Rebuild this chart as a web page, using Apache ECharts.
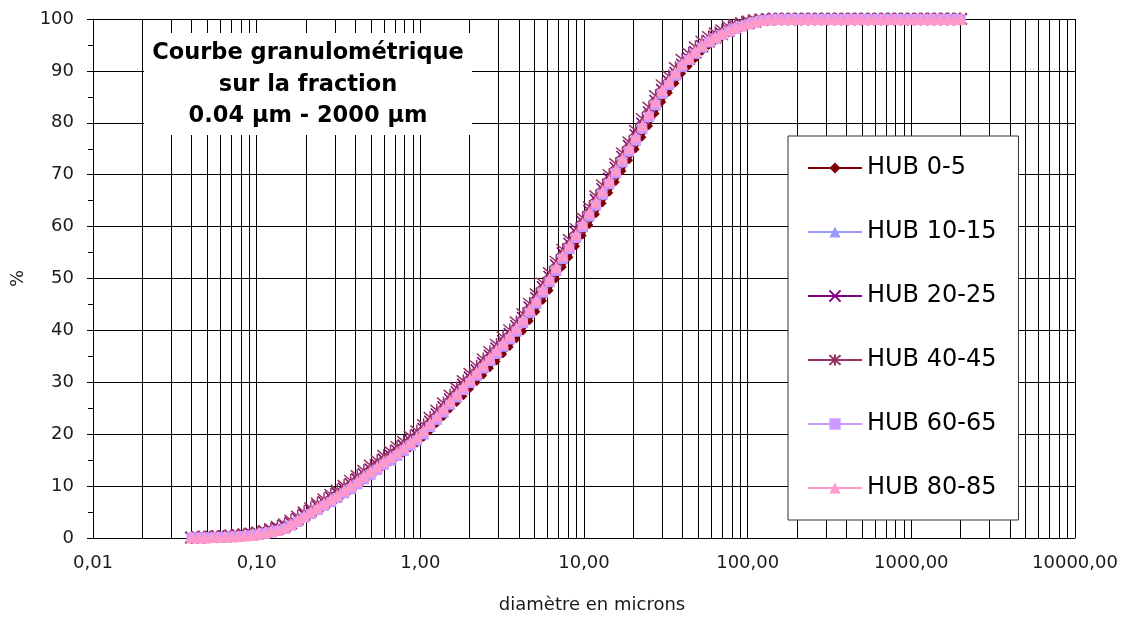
<!DOCTYPE html>
<html><head><meta charset="utf-8">
<script src="https://cdn.jsdelivr.net/npm/echarts@6/dist/echarts.min.js"></script>
<style>html,body{margin:0;padding:0;background:#fff}#c{width:1125px;height:619px}</style>
</head><body><div id="c"></div>
<script>
// particle sizes (µm)
const sizes = [0.040,0.044,0.048,0.053,0.058,0.064,0.070,0.077,0.084,0.093,
0.102,0.112,0.122,0.134,0.148,0.162,0.178,0.195,0.214,0.235,
0.258,0.284,0.311,0.342,0.375,0.412,0.452,0.496,0.545,0.598,
0.657,0.721,0.791,0.869,0.953,1.047,1.149,1.261,1.385,1.520,
1.669,1.832,2.011,2.208,2.423,2.660,2.920,3.206,3.519,3.863,
4.241,4.656,5.111,5.611,6.159,6.761,7.422,8.148,8.944,9.819,
10.78,11.83,12.99,14.26,15.65,17.18,18.86,20.70,22.73,24.95,
27.39,30.07,33.01,36.24,39.78,43.67,47.94,52.62,57.77,63.41,
69.61,76.42,83.90,92.09,101.1,111.0,121.8,133.7,146.8,161.2,
176.8,194.2,213.2,234.1,256.8,282.1,309.6,339.8,373.1,409.6,
449.7,493.6,541.9,594.9,653.0,716.9,786.9,863.9,948.2,1041,
1143,1255,1377,1512,1660,1822,2000];

const hub0_5 = [0.1,0.1,0.1,0.1,0.2,0.2,0.3,0.3,0.4,0.5,
0.6,0.8,1.1,1.4,1.7,2.3,3.1,3.9,4.7,5.5,
6.2,7.0,7.8,8.6,9.5,10.3,11.2,12.1,13.0,13.9,
14.6,15.5,16.4,17.3,18.2,19.3,20.6,22.0,23.3,24.8,
26.0,27.3,28.7,30.0,31.3,32.7,34.0,35.4,36.8,38.3,
39.8,41.8,43.6,45.7,47.7,49.9,52.2,54.1,56.2,58.3,
60.3,62.4,64.5,66.5,68.6,70.7,72.8,74.9,77.2,79.4,
81.8,84.0,85.8,87.6,89.5,90.9,92.3,93.7,94.8,95.7,
96.4,97.2,97.8,98.3,98.8,99.2,99.5,99.7,99.9,100,
100,100,100,100,100,100,100,100,100,100,
100,100,100,100,100,100,100,100,100,100,
100,100,100,100,100,100,100];

const hub10_15 = [0.1,0.1,0.1,0.2,0.2,0.3,0.3,0.4,0.5,0.6,
0.7,0.9,1.2,1.5,1.9,2.5,3.3,4.1,4.9,5.6,
6.4,7.2,8.0,8.8,9.7,10.6,11.5,12.4,13.3,14.3,
15.1,16.0,16.9,17.9,18.9,20.1,21.5,22.9,24.3,25.8,
27.2,28.6,30.0,31.4,32.8,34.2,35.6,37.0,38.4,39.9,
41.5,43.5,45.3,47.4,49.4,51.6,53.9,55.8,57.9,60.0,
62.1,64.2,66.3,68.3,70.4,72.5,74.6,76.7,79.0,81.2,
83.5,85.7,87.4,89.2,90.9,92.2,93.4,94.6,95.6,96.3,
97.0,97.7,98.2,98.7,99.1,99.4,99.7,99.9,100,100,
100,100,100,100,100,100,100,100,100,100,
100,100,100,100,100,100,100,100,100,100,
100,100,100,100,100,100,100];

const hub20_25 = [0.1,0.1,0.2,0.2,0.3,0.3,0.4,0.5,0.6,0.7,
0.9,1.2,1.5,1.8,2.3,2.9,3.7,4.5,5.3,6.1,
6.9,7.8,8.6,9.5,10.4,11.3,12.3,13.2,14.1,15.1,
15.9,16.8,17.8,18.8,19.8,21.0,22.4,23.8,25.2,26.7,
28.1,29.5,30.9,32.3,33.7,35.1,36.5,37.9,39.3,40.8,
42.4,44.4,46.2,48.3,50.3,52.5,54.8,56.7,58.8,60.9,
63.0,65.1,67.2,69.2,71.3,73.4,75.5,77.6,79.8,82.0,
84.2,86.3,88.0,89.6,91.2,92.4,93.6,94.8,95.7,96.5,
97.1,97.8,98.3,98.8,99.2,99.5,99.8,99.9,100,100,
100,100,100,100,100,100,100,100,100,100,
100,100,100,100,100,100,100,100,100,100,
100,100,100,100,100,100,100];

const hub40_45 = [0.1,0.2,0.2,0.3,0.3,0.4,0.5,0.6,0.7,0.9,
1.1,1.4,1.8,2.2,2.7,3.4,4.2,5.0,5.8,6.7,
7.5,8.4,9.2,10.1,11.1,12.0,13.0,14.0,14.9,15.9,
16.7,17.6,18.6,19.6,20.6,21.8,23.2,24.6,26.0,27.5,
28.9,30.3,31.7,33.1,34.5,35.9,37.3,38.7,40.1,41.6,
43.2,45.2,47.0,49.1,51.1,53.3,55.6,57.5,59.6,61.7,
63.8,65.9,68.0,70.0,72.1,74.2,76.3,78.5,80.8,83.0,
85.2,87.3,89.0,90.6,92.2,93.4,94.6,95.7,96.6,97.3,
97.9,98.5,98.9,99.3,99.6,99.8,99.9,100,100,100,
100,100,100,100,100,100,100,100,100,100,
100,100,100,100,100,100,100,100,100,100,
100,100,100,100,100,100,100];

const hub60_65 = [0.1,0.1,0.1,0.1,0.2,0.2,0.3,0.3,0.4,0.5,
0.7,0.9,1.1,1.4,1.8,2.4,3.1,3.9,4.6,5.4,
6.2,6.9,7.7,8.6,9.4,10.3,11.3,12.2,13.1,14.1,
14.9,15.8,16.8,17.8,18.8,20.0,21.4,22.8,24.2,25.7,
27.1,28.5,29.9,31.3,32.7,34.1,35.5,36.9,38.3,39.8,
41.4,43.4,45.2,47.3,49.3,51.5,53.8,55.7,57.8,59.9,
62.0,64.1,66.2,68.2,70.3,72.4,74.5,76.6,78.9,81.1,
83.4,85.6,87.3,89.1,90.8,92.1,93.3,94.5,95.5,96.2,
96.9,97.6,98.2,98.6,99.0,99.4,99.7,99.8,100,100,
100,100,100,100,100,100,100,100,100,100,
100,100,100,100,100,100,100,100,100,100,
100,100,100,100,100,100,100];

const hub80_85 = [0.1,0.1,0.1,0.2,0.2,0.3,0.3,0.4,0.5,0.6,
0.8,1.0,1.3,1.6,2.0,2.7,3.5,4.3,5.1,5.9,
6.7,7.5,8.3,9.2,10.1,11.0,12.0,12.9,13.8,14.8,
15.6,16.5,17.5,18.5,19.5,20.7,22.1,23.5,24.9,26.4,
27.8,29.2,30.6,32.0,33.4,34.8,36.2,37.6,39.0,40.5,
42.1,44.1,45.9,48.0,50.0,52.2,54.5,56.4,58.5,60.6,
62.7,64.8,66.9,68.9,71.0,73.1,75.2,77.3,79.6,81.8,
84.1,86.3,88.0,89.7,91.4,92.6,93.8,95.0,95.9,96.6,
97.2,97.9,98.4,98.8,99.2,99.5,99.8,99.9,100,100,
100,100,100,100,100,100,100,100,100,100,
100,100,100,100,100,100,100,100,100,100,
100,100,100,100,100,100,100];

const seriesNames = ['HUB 0-5','HUB 10-15','HUB 20-25','HUB 40-45','HUB 60-65','HUB 80-85'];
const seriesValues = [hub0_5, hub10_15, hub20_25, hub40_45, hub60_65, hub80_85];
const xTickLabels = ['0,01','0,10','1,00','10,00','100,00','1000,00','10000,00'];
const minorGridMultipliers = [2,3,4,5,6,7,8,9];
const decades = [0.01,0.1,1,10,100,1000];
const titleText = 'Courbe granulométrique\nsur la fraction\n0.04 µm - 2000 µm';

const F = 'DejaVu Sans';
const X = 'path://M0,0L10,10M0,10L10,0';
const STAR = 'path://M0,0L10,10M0,10L10,0M5,-1L5,11';
const styles = [
  {color:'#800000', symbol:'diamond', size:8, stroke:false},
  {color:'#9999FF', symbol:'triangle', size:11, stroke:false},
  {color:'#800080', symbol:X, size:12, stroke:true},
  {color:'#993366', symbol:STAR, size:13, stroke:true},
  {color:'#CC99FF', symbol:'rect', size:10, stroke:false},
  {color:'#FF99CC', symbol:'triangle', size:12, stroke:false}
];

const minorGrid = [];
decades.forEach(d => minorGridMultipliers.forEach(k => minorGrid.push({xAxis: +(d*k).toPrecision(3)})));

const series = seriesNames.map((name, i) => {
  const st = styles[i];
  const s = {
    name, type:'line', z:2, clip:false,
    data: sizes.map((x, j) => [x, seriesValues[i][j]]),
    symbol: st.symbol, symbolSize: st.size,
    lineStyle: {color: st.color, width: 2},
    itemStyle: st.stroke ? {color: st.color, borderColor: st.color, borderWidth: 1.5}
                         : {color: st.color, borderWidth: 0},
    emphasis: {disabled: true},
    animation: false
  };
  if (i === 0) {
    s.markLine = {
      silent: true, z: 1, symbol: ['none','none'], animation: false,
      label: {show: false},
      lineStyle: {color:'#000', width:1, type:'solid'},
      emphasis: {disabled: true},
      data: minorGrid
    };
  }
  return s;
});

const chart = echarts.init(document.getElementById('c'));
chart.setOption({
  animation: false,
  backgroundColor: '#fff',
  grid: {left: 93, right: 50, top: 19, bottom: 80},
  xAxis: {
    type: 'log', logBase: 10, min: 0.01, max: 10000, splitNumber: 6,
    name: 'diamètre en microns', nameLocation: 'middle', nameGap: 58,
    nameTextStyle: {fontFamily: F, fontSize: 18, color: '#1a1a1a', padding: [0,0,0,16]},
    axisLine: {show: true, lineStyle: {color: '#000', width: 1}},
    axisTick: {show: false},
    axisLabel: {fontFamily: F, fontSize: 18, color: '#1a1a1a', margin: 16,
      formatter: v => xTickLabels[Math.round(Math.log10(v)) + 2]},
    splitLine: {show: true, lineStyle: {color: '#000', width: 1}}
  },
  yAxis: {
    type: 'value', min: 0, max: 100, interval: 10,
    name: '%', nameLocation: 'middle', nameGap: 66,
    nameTextStyle: {fontFamily: F, fontSize: 18, color: '#1a1a1a'},
    axisLine: {show: true, lineStyle: {color: '#000', width: 1}},
    axisTick: {show: true, length: 6, lineStyle: {color: '#000'}},
    minorTick: {show: true, splitNumber: 2, length: 5, lineStyle: {color: '#000'}},
    axisLabel: {fontFamily: F, fontSize: 18, color: '#1a1a1a', margin: 19},
    splitLine: {show: true, lineStyle: {color: '#000', width: 1}}
  },
  legend: {
    orient: 'vertical', left: 788, top: 136,
    padding: [20, 22, 20, 19], itemGap: 40, itemWidth: 54, itemHeight: 14,
    backgroundColor: '#fff', borderColor: '#333', borderWidth: 1,
    textStyle: {fontFamily: F, fontSize: 24, color: '#000'},
    data: seriesNames, selectedMode: false
  },
  graphic: [
    {type: 'rect', z: 100, shape: {x: 144, y: 33, width: 328, height: 102}, style: {fill: '#fff'}, silent: true},
    {type: 'text', z: 101, silent: true, style: {
      text: titleText, x: 308, y: 85, align: 'center', verticalAlign: 'middle',
      fontFamily: F, fontWeight: 'bold', fontSize: 22.5, lineHeight: 31.5, fill: '#000'}}
  ],
  series
});
</script></body></html>
